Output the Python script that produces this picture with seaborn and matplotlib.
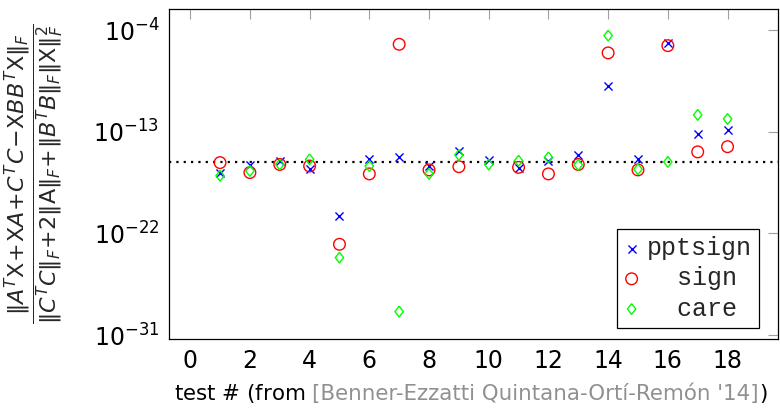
import matplotlib
matplotlib.use("Agg")
import matplotlib.pyplot as plt
import numpy as np
import pandas as pd
import seaborn as sns
from matplotlib.offsetbox import TextArea, HPacker, AnchoredOffsetbox

sns.set_style("white")
plt.rcParams['font.family'] = ['DejaVu Sans']
plt.rcParams['mathtext.fontset'] = 'dejavusans'

# residuals (one value per test problem)
tests = list(range(1, 19))
pptsign = [2.5e-17, 1.2e-16, 2.8e-16, 4.9e-17, 3.5e-21, 3.7e-16, 6.5e-16, 9.5e-17, 2.2e-15,
           3.2e-16, 6.3e-17, 2.8e-16, 9.1e-16, 1.1e-9, 3.7e-16, 7.1e-6, 6.2e-14, 1.6e-13]
sign = [1.9e-16, 2.5e-17, 1.3e-16, 9.5e-17, 1.1e-23, 1.9e-17, 5.8e-6, 4.3e-17, 8.3e-17,
        np.nan, 7.2e-17, 1.9e-17, 1.3e-16, 1.0e-6, 4.3e-17, 4.4e-6, 1.7e-15, 4.9e-15]
care = [1.3e-17, 3.5e-17, 1.3e-16, 3.7e-16, 7.2e-25, 9.5e-17, 1.2e-29, 1.9e-17, 9.1e-16,
        1.3e-16, 2.8e-16, 5.6e-16, 1.2e-16, 3.4e-5, 4.9e-17, 2.2e-16, 3.2e-12, 1.4e-12]
eps = 2.22e-16

xticks = list(range(0, 19, 2))
yticks = [1e-4, 1e-13, 1e-22, 1e-31]
ytick_labels = [r'$10^{-4}$', r'$10^{-13}$', r'$10^{-22}$', r'$10^{-31}$']

df = pd.DataFrame({"test": tests, "pptsign": pptsign, "sign": sign, "care": care})

fig = plt.figure(figsize=(7.8, 4.16), dpi=100)
ax = fig.add_axes([169 / 780, 1 - 339 / 416, 609 / 780, 330 / 416])

diamond = [(0, 1), (0.78, 0), (0, -1), (-0.78, 0), (0, 1)]

sns.scatterplot(data=df, x="test", y="pptsign", marker="x", s=34, color="blue",
                linewidth=1, label="pptsign", ax=ax, zorder=3)
sns.scatterplot(data=df, x="test", y="sign", marker="o", s=70, facecolor="none",
                edgecolor="red", linewidth=1, label="  sign", ax=ax, zorder=3)
sns.scatterplot(data=df, x="test", y="care", marker=diamond, s=60, facecolor="none",
                edgecolor="#00ff00", linewidth=1, label="  care", ax=ax, zorder=3)

# machine precision
ax.axhline(eps, color="black", linestyle=(0, (1, 2.3)), linewidth=1.6, zorder=2)

ax.set_yscale("log")
ax.set_xlim(-0.71, 19.69)
ax.set_ylim(10 ** -31.35, 10 ** -2.11)
ax.set_xticks(xticks)
ax.set_yticks(yticks)
ax.set_yticklabels(ytick_labels)
ax.minorticks_off()
ax.tick_params(direction="in", length=7, width=0.8, color="#a0a0a0", top=True, right=True,
               labelsize=17, labelcolor="black")
ax.tick_params(axis="x", pad=7)
ax.tick_params(axis="y", pad=7)
for sp in ax.spines.values():
    sp.set_color("black")
    sp.set_linewidth(0.9)

ax.set_xlabel("")
ax.set_ylabel(r"$\dfrac{\|A^T\mathrm{X}\!+\!\mathrm{X}A\!+\!C^TC\!-\!\mathrm{X}BB^T\mathrm{X}\|_F}"
              r"{\|C^TC\|_F\!+\!2\|\mathrm{A}\|_F\!+\!\|B^TB\|_F\|\mathrm{X}\|_F^2}$",
              fontsize=16, va="center")
ax.yaxis.set_label_coords(-0.222, 0.5)

# x label with the greyed citation
cite = HPacker(children=[
    TextArea("[Benner-Ezzatti Quintana-Ortí-Remón '14]", textprops=dict(size=15.4, color="#909090")),
    TextArea(")", textprops=dict(size=15.4, color="black")),
], align="baseline", pad=0, sep=0)
parts = HPacker(children=[
    TextArea("test $\\#$ (from", textprops=dict(size=15.4, color="black")),
    cite,
], align="baseline", pad=0, sep=5)
box = AnchoredOffsetbox(loc="center", child=parts, pad=0, borderpad=0, frameon=False,
                        bbox_to_anchor=(0.495, -0.164), bbox_transform=ax.transAxes)
ax.add_artist(box)

leg = ax.legend(loc="lower right", bbox_to_anchor=(0.969, 0.033), borderaxespad=0,
                prop={"family": "Liberation Mono", "size": 18}, fancybox=False,
                edgecolor="black", framealpha=1, handlelength=0.6, handletextpad=0.3,
                labelspacing=0.25, borderpad=0.3, scatterpoints=1)
leg.get_frame().set_linewidth(0.9)

fig.savefig("out.png", dpi=100)
